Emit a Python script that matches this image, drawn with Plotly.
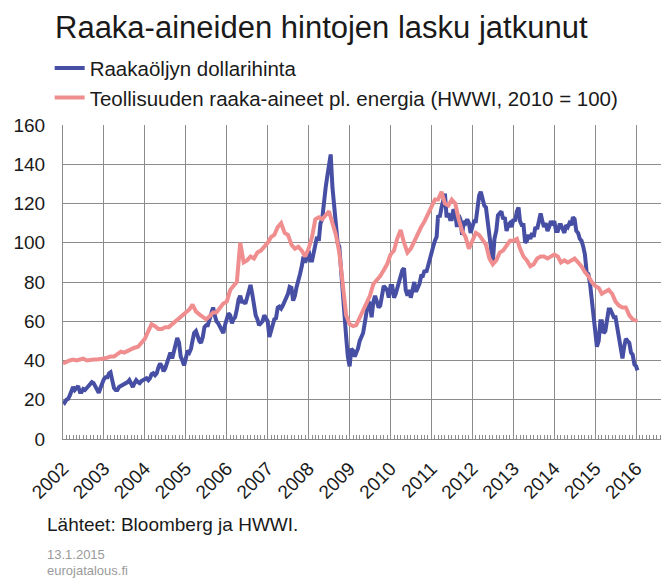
import plotly.graph_objects as go

# ---------------- data ----------------
years = list(range(2002, 2016))

# Crude oil (USD), semi-monthly readings (1st and 16th of each month)
oil_2002 = [19.5, 18.5, 20, 20.5, 22, 24.5, 26.5, 25, 26, 27, 24, 24, 25.5, 25, 26, 27, 28, 29, 28.5, 27, 25, 23.5, 26, 28.5]
oil_2003 = [30.5, 31.5, 31.5, 33.5, 34, 30, 26, 25, 25, 26.5, 27, 27.5, 28, 28.5, 29, 30, 28, 26.5, 28.5, 30, 29, 28.5, 29.5, 30]
oil_2004 = [30.5, 31, 30, 31, 33, 33.5, 32.5, 33.5, 36.5, 38.5, 37, 34.5, 36, 38.5, 41, 44, 41, 44.5, 48, 51.5, 49, 42, 40, 37.5]
oil_2005 = [41, 45, 44, 46, 50, 54, 55, 52, 50, 49, 52, 57, 58, 58, 61, 65, 67, 63, 60, 59, 57, 55, 54, 58]
oil_2006 = [61, 64, 63, 59, 61, 62, 66, 71, 73, 70, 70, 69, 72, 75, 78.5, 74, 68, 63, 61, 58, 59, 60, 63, 61]
oil_2007 = [60, 52, 56, 58.5, 61, 61.5, 67, 67.5, 66.5, 68, 70, 71.5, 74, 77.5, 77, 70.5, 73, 77.5, 80, 84, 88, 93, 90, 92]
oil_2008 = [96, 91, 91, 95, 100, 103, 101, 110, 112, 122, 128, 134, 140, 145, 128, 120, 112, 100, 98, 85, 72, 58, 52, 42]
oil_2009 = [37, 46, 45, 42, 44, 46, 50, 52, 54, 59, 65, 70, 69, 62, 70, 73, 70, 67, 68, 74, 78, 77, 76, 72]
oil_2010 = [78, 78, 72, 74, 77, 80, 84, 86, 87, 76, 73, 76, 72, 76, 80, 75, 77, 79, 83, 83, 86, 85, 88, 92]
oil_2011 = [94, 98, 101, 103, 114, 113, 118, 123, 125, 113, 115, 112, 112, 117, 115, 108, 114, 112, 104, 111, 110, 112, 110, 105]
oil_2012 = [108, 111, 111, 118, 124, 126, 123, 119, 118, 111, 100, 95, 90, 102, 106, 114, 115, 116, 112, 113, 106, 109, 110, 108]
oil_2013 = [112, 111, 116, 118, 111, 109, 109, 100, 101, 104, 102, 105, 103, 108, 107, 110, 115, 111, 108, 110, 106, 108, 111, 109]
oil_2014 = [111, 106, 106, 109, 109, 107, 105, 109, 108, 110, 109, 113, 112, 106, 105, 102, 101, 98, 94, 85, 84, 79, 70, 61]
oil_2015 = [56, 47, 50, 60, 60, 54, 55, 62, 66, 66, 64, 62, 62, 57, 52, 46, 41, 47, 51, 50, 49, 44, 43, 38]
oil_2016_dates = ["2016-01-01", "2016-01-12"]
oil_2016 = [37, 35]

# HWWI industrial raw materials excl. energy (2010 = 100), monthly
hwwi_2002 = [38.5, 39.5, 40, 40.5, 40, 40.5, 41, 40, 40.5, 40.5, 40.5, 40.5]
hwwi_2003 = [41, 41.5, 42, 42, 43.5, 44.5, 44, 45, 46, 46.5, 47, 49]
hwwi_2004 = [51, 55, 58.5, 57.5, 56, 56, 57, 57, 58.5, 59.5, 61, 62.5]
hwwi_2005 = [64, 66, 68.5, 65, 63.5, 62, 61, 62.5, 64.5, 64.5, 66.5, 69]
hwwi_2006 = [70, 76, 78, 80, 100, 90, 91, 93, 92, 95, 96, 98]
hwwi_2007 = [100, 103, 104, 108, 110, 105, 104, 99, 97, 98, 96, 93]
hwwi_2008 = [97, 103, 112, 113, 112, 114, 116, 110, 104, 95, 76, 63]
hwwi_2009 = [58.5, 57.5, 58, 62, 66, 70, 73, 79, 81, 83, 86, 89]
hwwi_2010 = [94, 96, 102, 106.5, 100, 95, 97, 101, 104, 108, 111, 115]
hwwi_2011 = [118.5, 122, 122, 126, 120, 119, 122, 120, 112, 106, 103, 97]
hwwi_2012 = [101, 105, 104, 101, 99, 92, 89, 91, 95, 96, 99, 101]
hwwi_2013 = [101, 102, 97, 93, 91, 88, 89, 92, 93, 93, 92, 93]
hwwi_2014 = [94, 93, 90, 91, 90, 91, 92, 90, 88, 85, 83, 80]
hwwi_2015 = [78, 77, 74, 75, 76, 74, 70, 68, 67, 67, 63, 61]
hwwi_2016_dates = ["2016-01-01", "2016-01-12"]
hwwi_2016 = [60.5, 60]

oil_by_year = [oil_2002, oil_2003, oil_2004, oil_2005, oil_2006, oil_2007, oil_2008,
               oil_2009, oil_2010, oil_2011, oil_2012, oil_2013, oil_2014, oil_2015]
hwwi_by_year = [hwwi_2002, hwwi_2003, hwwi_2004, hwwi_2005, hwwi_2006, hwwi_2007, hwwi_2008,
                hwwi_2009, hwwi_2010, hwwi_2011, hwwi_2012, hwwi_2013, hwwi_2014, hwwi_2015]

oil_x, oil_y = [], []
for yr, vals in zip(years, oil_by_year):
    for i, v in enumerate(vals):
        m = i // 2 + 1
        d = 1 if i % 2 == 0 else 16
        oil_x.append(f"{yr}-{m:02d}-{d:02d}")
        oil_y.append(v)
oil_x += oil_2016_dates
oil_y += oil_2016

hwwi_x, hwwi_y = [], []
for yr, vals in zip(years, hwwi_by_year):
    for i, v in enumerate(vals):
        hwwi_x.append(f"{yr}-{i + 1:02d}-01")
        hwwi_y.append(v)
hwwi_x += hwwi_2016_dates
hwwi_y += hwwi_2016

title_text = "Raaka-aineiden hintojen lasku jatkunut"
name_oil = "Raakaöljyn dollarihinta"
name_hwwi = "Teollisuuden raaka-aineet pl. energia (HWWI, 2010 = 100)"
source_text = "Lähteet: Bloomberg ja HWWI."
date_text = "13.1.2015"
site_text = "eurojatalous.fi"

FONT = "Liberation Sans, Arial, Helvetica, sans-serif"
BLUE = "#464fa3"
PINK = "#f08e8f"
GRID = "#8c8c8c"

# the page body adds an 8px offset; figure is sized so that it fills the window
W, H = 661, 572

fig = go.Figure()
fig.add_trace(go.Scatter(x=oil_x, y=oil_y, mode="lines", name=name_oil,
                         line=dict(color=BLUE, width=4)))
fig.add_trace(go.Scatter(x=hwwi_x, y=hwwi_y, mode="lines", name=name_hwwi,
                         line=dict(color=PINK, width=4)))

fig.update_layout(
    width=W, height=H,
    margin=dict(l=55, r=0, t=117, b=141, autoexpand=False),
    paper_bgcolor="white", plot_bgcolor="white",
    font=dict(family=FONT, color="#1a1a1a"),
    title=dict(text=title_text, x=47 / W, xanchor="left", xref="container",
               y=1 - 19 / H, yanchor="middle", yref="container",
               font=dict(size=31, color="#1a1a1a", family=FONT)),
    showlegend=True,
    legend=dict(x=-0.022, xanchor="left", y=1.245, yanchor="top",
                font=dict(size=20.5, color="#1a1a1a"), itemwidth=30,
                bgcolor="rgba(0,0,0,0)", tracegroupgap=0),
    xaxis=dict(type="date", range=["2002-01-01", "2016-10-20"],
               tick0="2002-01-01", dtick="M12", tickformat="%Y",
               tickangle=-45, tickfont=dict(size=19, color="#1a1a1a"),
               showgrid=True, gridcolor=GRID, gridwidth=1,
               showline=True, linecolor=GRID, linewidth=1,
               ticks="", zeroline=False, automargin=False, ticklabelstandoff=10,
               minor=dict(ticks="inside", dtick="M1", tick0="2002-01-01",
                          ticklen=4, tickcolor=GRID, showgrid=False)),
    yaxis=dict(range=[0, 160], dtick=20, tick0=0,
               tickfont=dict(size=19, color="#1a1a1a"),
               showgrid=True, gridcolor=GRID, gridwidth=1,
               showline=True, linecolor=GRID, linewidth=1,
               ticks="", zeroline=False, automargin=False, ticklabelstandoff=13),
)

fig.add_annotation(text=source_text, xref="paper", yref="paper",
                   x=(45 - 63) / 606, y=(439 - 524) / 314, xanchor="left", yanchor="middle",
                   showarrow=False, font=dict(size=19, color="#1a1a1a", family=FONT))
fig.add_annotation(text=date_text, xref="paper", yref="paper",
                   x=(45 - 63) / 606, y=(439 - 554) / 314, xanchor="left", yanchor="middle",
                   showarrow=False, font=dict(size=13, color="#9a9a9a", family=FONT))
fig.add_annotation(text=site_text, xref="paper", yref="paper",
                   x=(45 - 63) / 606, y=(439 - 570) / 314, xanchor="left", yanchor="middle",
                   showarrow=False, font=dict(size=13, color="#9a9a9a", family=FONT))

fig.write_html("out.html")
